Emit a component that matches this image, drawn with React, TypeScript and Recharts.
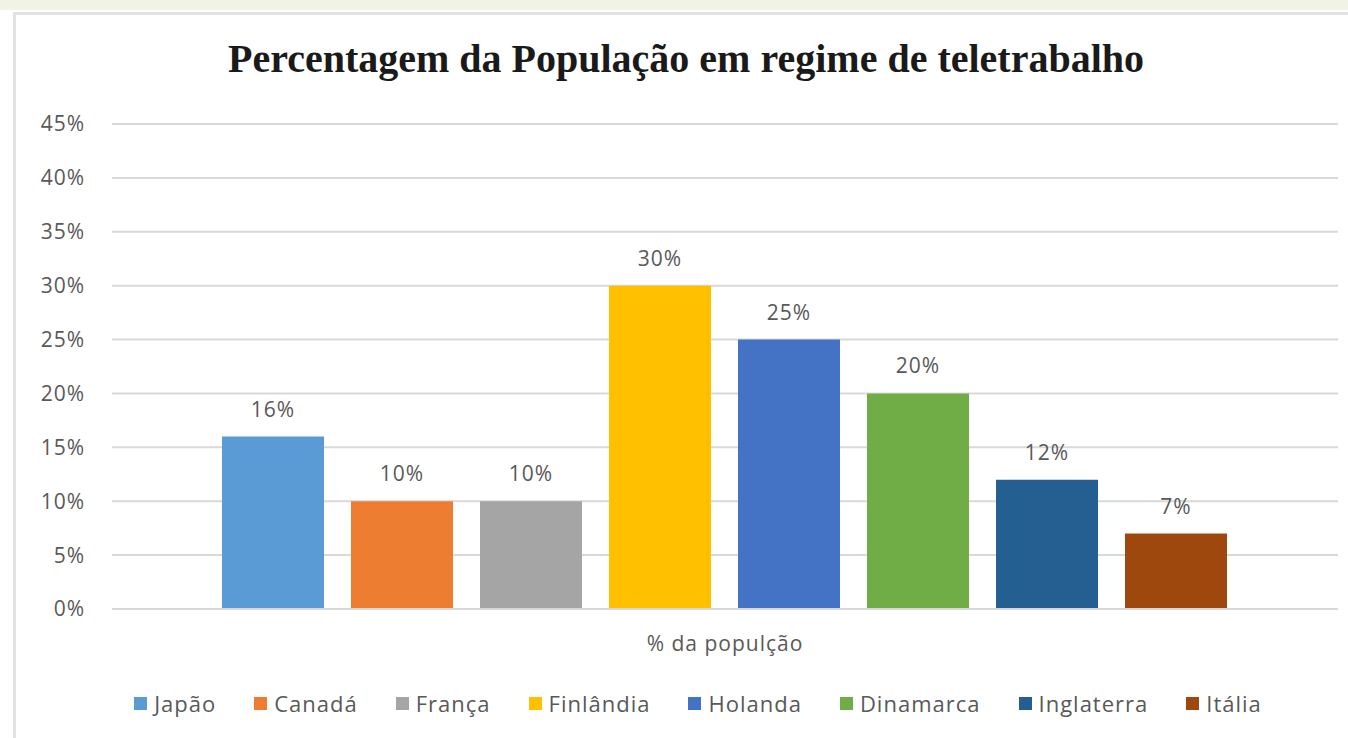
import { BarChart, Bar, XAxis, YAxis, CartesianGrid, Legend, LabelList } from 'recharts'

const CATEGORY = '% da populção'
const COUNTRIES = ['Japão', 'Canadá', 'França', 'Finlândia', 'Holanda', 'Dinamarca', 'Inglaterra', 'Itália']
const VALUES = [16, 10, 10, 30, 25, 20, 12, 7]
const COLORS = ['#5B9BD5', '#ED7D31', '#A5A5A5', '#FFC000', '#4472C4', '#70AD47', '#255E91', '#9E480E']
const Y_TICKS = [0, 5, 10, 15, 20, 25, 30, 35, 40, 45]

const row: Record<string, string | number> = { name: CATEGORY }
COUNTRIES.forEach((c, i) => { row[c] = VALUES[i] })
const data = [row]

const TEXT = '#595959'
const FONT = '"Open Sans", sans-serif'

// legend keeps the series order instead of recharts' sorted payload
function LegendContent({ payload }: any) {
  const byName: Record<string, any> = {}
  ;(payload || []).forEach((p: any) => { byName[p.value] = p })
  return (
    <div style={{ display: 'flex', justifyContent: 'center', alignItems: 'center', height: 40, paddingLeft: 96 }}>
      {COUNTRIES.map((c, i) => (
        <div key={c} style={{ display: 'flex', alignItems: 'center', marginRight: 38 }}>
          <div style={{ width: 13, height: 13, background: byName[c]?.color ?? COLORS[i], marginRight: 7 }} />
          <span style={{ fontFamily: FONT, fontSize: 22, letterSpacing: 1, color: TEXT }}>{c}</span>
        </div>
      ))}
    </div>
  )
}

export default function App() {
  return (
    <div style={{ position: 'absolute', left: 0, top: 0, width: 1348, height: 738, overflow: 'hidden', background: '#fff' }}>
      <div style={{ position: 'absolute', left: 0, top: 0, width: 1348, height: 10, background: '#f1f3e7' }} />
      <div style={{ position: 'absolute', left: 13, top: 12, width: 1400, height: 800, borderLeft: '3px solid #e2e2e2', borderTop: '3px solid #e2e2e2' }} />
      <div style={{
        position: 'absolute', left: 0, top: 39, width: 1372, textAlign: 'center',
        fontFamily: '"Liberation Serif", serif', fontWeight: 'bold', fontSize: 40, lineHeight: '40px', color: '#1a1a1a',
      }}>
        Percentagem da População em regime de teletrabalho
      </div>
      <div style={{ position: 'absolute', left: 0, top: 0 }}>
        <BarChart width={1348} height={738} data={data} margin={{ top: 124, right: 10, bottom: 15, left: 0 }}
          barCategoryGap={110} barGap={27}>
          <CartesianGrid vertical={false} stroke="#d9d9d9" strokeWidth={2} />
          <XAxis dataKey="name" height={74} tickLine={false} axisLine={{ stroke: '#d9d9d9', strokeWidth: 2 }}
            tickMargin={21} tick={{ fill: TEXT, fontFamily: FONT, fontSize: 21, letterSpacing: 1 }} />
          <YAxis width={112} domain={[0, 45]} ticks={Y_TICKS} tickFormatter={(v) => `${v}%`}
            tickLine={false} axisLine={false} tickMargin={21}
            tick={{ fill: TEXT, fontFamily: FONT, fontSize: 21, letterSpacing: 1 }} />
          <Legend verticalAlign="bottom" content={<LegendContent />} />
          {COUNTRIES.map((c, i) => (
            <Bar key={c} dataKey={c} fill={COLORS[i]} isAnimationActive={false}>
              <LabelList dataKey={c} position="top" offset={20} formatter={(v: any) => `${v}%`}
                fill={TEXT} fontFamily={FONT} fontSize={21} letterSpacing={1} />
            </Bar>
          ))}
        </BarChart>
      </div>
    </div>
  )
}
